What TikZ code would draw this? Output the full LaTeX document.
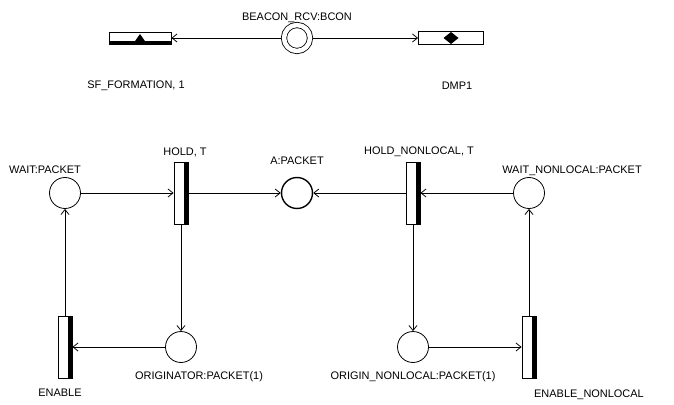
\documentclass[tikz,border=0pt]{standalone}
\usepackage{fontspec}
\setmainfont{Liberation Sans}
\usetikzlibrary{positioning, arrows.meta}

\tikzset{
  lbl/.style={font=\fontsize{11}{13}\selectfont, inner sep=0pt, text height=8bp, text depth=0pt},
  place/.style={draw, circle, minimum size=31bp, inner sep=0pt, line width=0.8bp},
  trans/.style={draw, rectangle, minimum width=14bp, minimum height=62bp, inner sep=0pt, line width=0.8bp,
    path picture={\fill (path picture bounding box.north east) rectangle ([xshift=-4bp]path picture bounding box.south east);}},
  sfbox/.style={draw, rectangle, minimum width=62bp, minimum height=12bp, inner sep=0pt, line width=0.8bp,
    path picture={
      \fill (path picture bounding box.south west) rectangle ([yshift=3bp]path picture bounding box.south east);
      \fill ([xshift=-7bp]path picture bounding box.south) -- ([yshift=10bp]path picture bounding box.south)
        -- ([xshift=7bp]path picture bounding box.south) -- cycle;}},
  dmpbox/.style={draw, rectangle, minimum width=65bp, minimum height=13bp, inner sep=0pt, line width=0.8bp,
    path picture={
      \fill ([xshift=-7.5bp]path picture bounding box.center) -- ([yshift=6bp]path picture bounding box.center)
        -- ([xshift=7.5bp]path picture bounding box.center) -- ([yshift=-6bp]path picture bounding box.center) -- cycle;}},
}

\begin{document}
\begin{tikzpicture}[node distance=116bp, on grid, >={Straight Barb[length=5bp, width=8bp]}, line width=0.8bp]
        \useasboundingbox (-65bp,-212bp) rectangle (609bp,193bp);

        % Plazas y transiciones
        \node[place] (wait) [label={[lbl, label distance=3bp, xshift=-20bp]above:{WAIT:PACKET}}] {};
        \node[trans] (hold) [right=of wait, label={[lbl, label distance=6bp, xshift=4bp]above:{HOLD, T}}] {};
        \node[place, line width=1.4bp] (apkt) [right=of hold, label={[lbl, label distance=12bp]above:{A:PACKET}}] {};
        \node[trans] (holdnl) [right=of apkt, label={[lbl, label distance=7bp, xshift=6bp]above:{HOLD\_NONLOCAL, T}}] {};
        \node[place] (waitnl) [right=of holdnl, label={[lbl, label distance=3bp, xshift=43bp]above:{WAIT\_NONLOCAL:PACKET}}] {};
        \node[trans] (enable) [below=154bp of wait, label={[lbl, label distance=10bp, xshift=-5bp]below:{ENABLE}}] {};
        \node[place] (orig) [below=154bp of hold, label={[lbl, label distance=8bp, xshift=18bp]below:{ORIGINATOR:PACKET(1)}}] {};
        \node[place] (orignl) [below=154bp of holdnl, label={[lbl, label distance=8bp]below:{ORIGIN\_NONLOCAL:PACKET(1)}}] {};
        \node[trans] (enablenl) [below=154bp of waitnl, label={[lbl, label distance=11bp, xshift=60bp]below:{ENABLE\_NONLOCAL}}] {};

        % Parte superior
        \node[place, double, double distance=4.5bp, minimum size=26bp, outer sep=3bp] (beacon) [above=155bp of apkt,
          label={[lbl, label distance=1bp]above:{BEACON\_RCV:BCON}}] {};
        \node[sfbox] (sf) [left=157bp of beacon, label={[lbl, label distance=36bp, xshift=-4bp]below:{SF\_FORMATION, 1}}] {};
        \node[dmpbox] (dmp) [right=154bp of beacon, label={[lbl, label distance=36bp, xshift=6bp]below:{DMP1}}] {};

        % Arcos
        \path[->]
            (wait) edge (hold)
            (hold) edge (apkt)
            (holdnl) edge (apkt)
            (waitnl) edge (holdnl)
            (hold) edge (orig)
            (orig) edge (enable)
            (enable) edge (wait)
            (holdnl) edge (orignl)
            (orignl) edge (enablenl)
            (enablenl) edge (waitnl)
            (beacon) edge (sf)
            (beacon) edge (dmp);
    \end{tikzpicture}
\end{document}
